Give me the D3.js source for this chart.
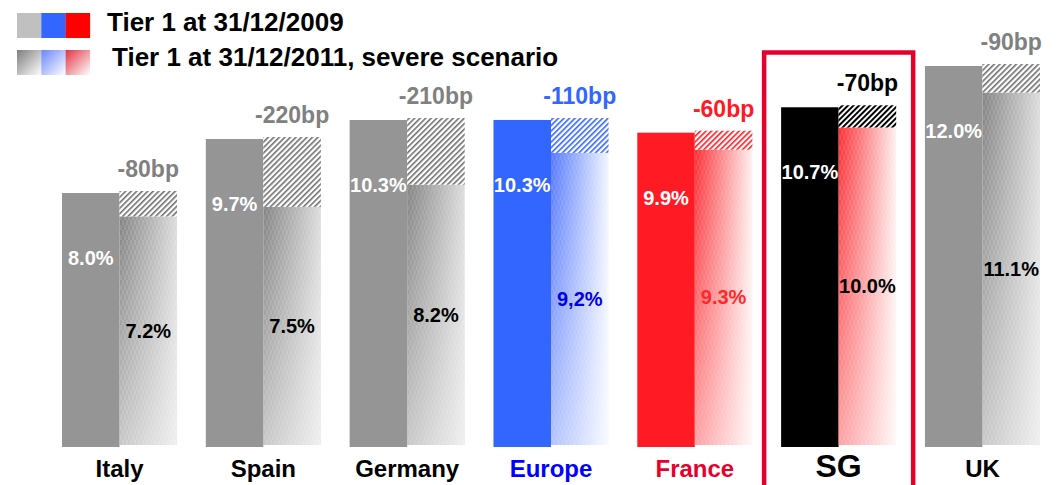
<!DOCTYPE html>
<html><head><meta charset="utf-8">
<script src="https://cdn.jsdelivr.net/npm/d3@7"></script>
<style>
body{margin:0;background:#fff;}
svg{display:block;font-family:"Liberation Sans",Arial,sans-serif;font-weight:bold;}
</style>
</head><body><svg id="c" width="1059" height="485"></svg>
<script>
// ---- data ----
const categories = ["Italy","Spain","Germany","Europe","France","SG","UK"];
const tier1_2009 = [8.0, 9.7, 10.3, 10.3, 9.9, 10.7, 12.0];
const tier1_2011 = [7.2, 7.5, 8.2, 9.2, 9.3, 10.0, 11.1];
const changeBp   = [-80, -220, -210, -110, -60, -70, -90];
const labels2009 = ["8.0%","9.7%","10.3%","10.3%","9.9%","10.7%","12.0%"];
const labels2011 = ["7.2%","7.5%","8.2%","9,2%","9.3%","10.0%","11.1%"];
const legendLabels = ["Tier 1 at 31/12/2009","Tier 1 at 31/12/2011, severe scenario"];
const series = ["2009","2011"];

// ---- styles ----
const themeOf = {Europe:"blue", France:"red", SG:"sg"};
const themes = {
  gray:{first:"#959595", hatch:"#707070", g0:"#828282", g1:"#dcdcdc", bp:"#808080", cat:"#000", lab2:"#000"},
  blue:{first:"#3366ff", hatch:"#3366ff", g0:"#5075ff", g1:"#f2f5ff", bp:"#3366ff", cat:"#0000ff", lab2:"#0000e6"},
  red:{first:"#ff1a24", hatch:"#ff1a24", g0:"#ff2a30", g1:"#fff0f0", bp:"#ff1a24", cat:"#e8002d", lab2:"#ff2a2a"},
  sg:{first:"#000000", hatch:"#000000", g0:"#ff2a30", g1:"#fff0f0", bp:"#000", cat:"#000", lab2:"#000"}
};
const th = c => themes[themeOf[c] || "gray"];
const thName = c => themeOf[c] || "gray";

const svg = d3.select("#c");
const defs = svg.append("defs");

Object.entries(themes).forEach(([k,t])=>{
  const g = defs.append("linearGradient").attr("id","g-"+k).attr("x1",0).attr("y1",0).attr("x2",1).attr("y2",0);
  g.append("stop").attr("offset",0).attr("stop-color",t.g0);
  g.append("stop").attr("offset",1).attr("stop-color",t.g1);
  const p = defs.append("pattern").attr("id","h-"+k).attr("patternUnits","userSpaceOnUse")
    .attr("width",3.9).attr("height",3.9).attr("patternTransform","rotate(45)");
  p.append("rect").attr("width",3.9).attr("height",3.9).attr("fill","#fff");
  p.append("rect").attr("x",0).attr("y",0).attr("width",k==="sg"?2.0:1.6).attr("height",3.9).attr("fill",t.hatch);
});
const fv = defs.append("linearGradient").attr("id","fadeV").attr("x1",0).attr("y1",0).attr("x2",0).attr("y2",1);
fv.append("stop").attr("offset",0).attr("stop-color","#fff").attr("stop-opacity",0);
fv.append("stop").attr("offset",1).attr("stop-color","#fff").attr("stop-opacity",0.55);
const tex = defs.append("pattern").attr("id","tex").attr("patternUnits","userSpaceOnUse").attr("width",4).attr("height",10);
tex.append("rect").attr("x",0.5).attr("y",0).attr("width",1).attr("height",5).attr("fill","#fff").attr("opacity",0.25);
tex.append("rect").attr("x",2.5).attr("y",5).attr("width",1).attr("height",5).attr("fill","#fff").attr("opacity",0.25);

// legend gradients
const lgCols = [["lg-gray","#7e7e7e"],["lg-blue","#6a86ff"],["lg-red","#e03444"]];
lgCols.forEach(([id,c])=>{
  const g = defs.append("linearGradient").attr("id",id).attr("x1",0).attr("y1",0).attr("x2",1).attr("y2",1);
  g.append("stop").attr("offset",0).attr("stop-color",c);
  g.append("stop").attr("offset",1).attr("stop-color","#fff");
});

// ---- scales ----
const x0 = d3.scaleBand().domain(categories).range([62,1040]).paddingInner(0.2).paddingOuter(0);
const x1 = d3.scaleBand().domain(series).range([0, x0.bandwidth()]);
const y = d3.scaleLinear().domain([0,12]).range([447,66]);
const lift = 2;

// SG highlight box
svg.append("rect").attr("x",x0("SG")-17).attr("y",52.5).attr("width",x0.bandwidth()+34).attr("height",600)
  .attr("fill","none").attr("stroke","#e4002b").attr("stroke-width",4.5);

const groups = svg.selectAll("g.cat").data(categories).join("g").attr("class","cat")
  .attr("transform",c=>`translate(${x0(c)},0)`);

groups.each(function(c,i){
  const g = d3.select(this), t = th(c), k = thName(c);
  const v1 = tier1_2009[i], v2 = tier1_2011[i];
  const bw = x1.bandwidth();
  // first bar
  g.append("rect").attr("x",x1("2009")).attr("y",y(v1)).attr("width",bw).attr("height",y(0)-y(v1)).attr("fill",t.first);
  // second bar (gradient + fade + texture)
  const sx = x1("2011"), sy = y(v2)-lift, sh = y(0)-y(v2);
  ["url(#g-"+k+")","url(#fadeV)","url(#tex)"].forEach(f=>
    g.append("rect").attr("x",sx).attr("y",sy).attr("width",bw).attr("height",sh).attr("fill",f));
  // hatch (loss)
  g.append("rect").attr("x",sx).attr("y",y(v1)-lift).attr("width",bw).attr("height",y(v2)-y(v1)).attr("fill","url(#h-"+k+")");
  // bp label
  g.append("text").attr("x",sx+bw/2).attr("y",y(v1)-lift-14).attr("text-anchor","middle")
    .attr("font-size",23).attr("fill",t.bp).text(changeBp[i]+"bp");
  // value labels
  g.append("text").attr("x",x1("2009")+bw/2).attr("y",y(v1)+72).attr("text-anchor","middle")
    .attr("font-size",20).attr("fill","#fff").text(labels2009[i]);
  g.append("text").attr("x",sx+bw/2).attr("y",sy+sh/2+7).attr("text-anchor","middle")
    .attr("font-size",20).attr("fill",t.lab2).text(labels2011[i]);
  // category label
  g.append("text").attr("x",x0.bandwidth()/2).attr("y",477).attr("text-anchor","middle")
    .attr("font-size",c==="SG"?32:24).attr("fill",t.cat).text(c);
});

// ---- legend ----
const sw1 = ["#c0c0c0","#3366ff","#ff0000"];
const leg = svg.append("g");
sw1.forEach((c,j)=>leg.append("rect").attr("x",17+j*24.3).attr("y",13).attr("width",24.5).attr("height",25).attr("fill",c));
lgCols.forEach(([id],j)=>leg.append("rect").attr("x",17+j*24.3).attr("y",50).attr("width",24.5).attr("height",25).attr("fill",`url(#${id})`));
leg.append("text").attr("x",107).attr("y",31).attr("font-size",26).attr("fill","#000").text(legendLabels[0]);
leg.append("text").attr("x",112).attr("y",66).attr("font-size",26).attr("fill","#000").text(legendLabels[1]);
</script>
</body></html>
